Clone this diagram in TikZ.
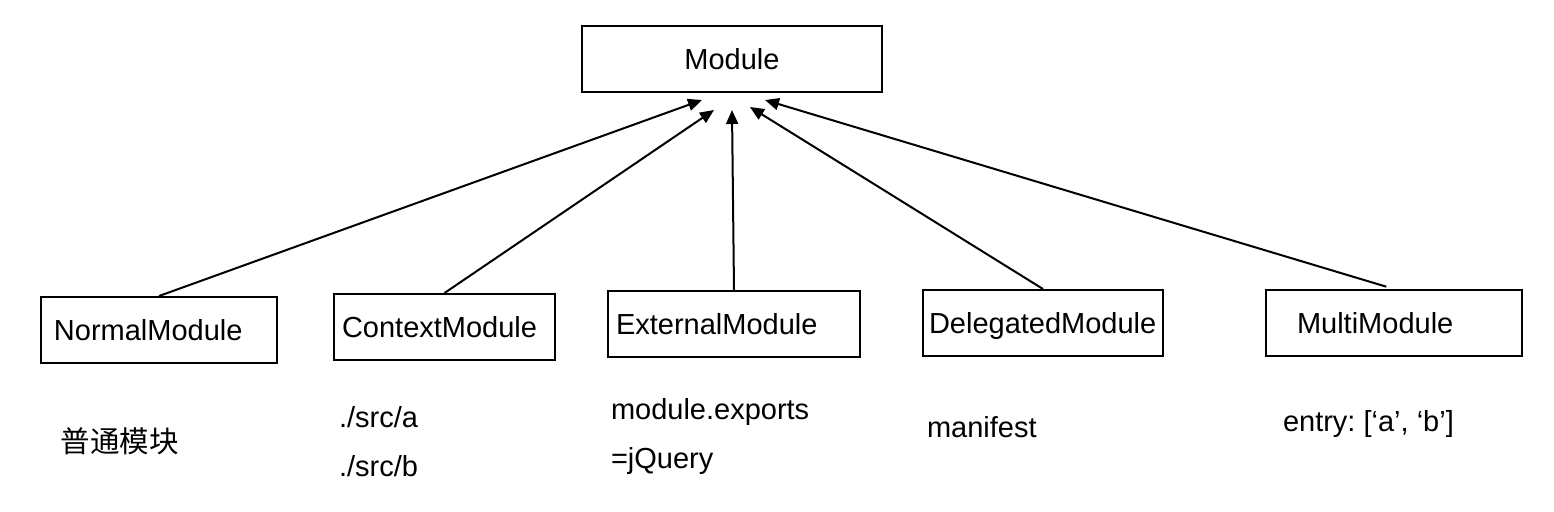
\documentclass[tikz,border=0pt]{standalone}
\usepackage{fontspec}
\setmainfont{Liberation Sans}
\newfontfamily\cjk{Noto Sans CJK SC}
\usetikzlibrary{arrows.meta}
\frenchspacing

\begin{document}
\begin{tikzpicture}[
    x=0.5pt, y=-0.5pt,       % 1 unit = 1 px
    line width=1pt,
    >={Triangle[length=7pt, width=6pt]},
    font=\fontsize{14.5}{24.5}\selectfont,
    modbox/.style={draw, minimum height=33pt, text height=12pt, text depth=1.5pt, align=left},
    desc/.style={anchor=west, align=left, inner sep=0pt}
]
    \useasboundingbox (0,0) rectangle (1554,511);

    % --- 1. 親クラス ---
    \node [draw, minimum width=150pt, minimum height=33pt] (module) at (732,59) {Module};

    % 矢印の先端
    \coordinate (tipN) at (702,100);
    \coordinate (tipC) at (714,110);
    \coordinate (tipE) at (732,110);
    \coordinate (tipD) at (750,107);
    \coordinate (tipM) at (765,100);

    % --- 2. 子クラス ---
    \node [modbox, inner xsep=6.5pt, text width=105pt]  (normal)    at (159,330)   {NormalModule};
    \node [modbox, inner xsep=4pt,   text width=102.5pt] (context)  at (444.5,327) {ContextModule};
    \node [modbox, inner xsep=4pt,   text width=118pt]  (external)  at (734,324)   {ExternalModule};
    \node [modbox, inner xsep=3pt,   text width=114pt]  (delegated) at (1043,323)  {DelegatedModule};
    \node [modbox, inner xsep=15.5pt, text width=97pt]  (multi)     at (1394,323)  {MultiModule};

    % --- 3. 継承の矢印 ---
    \draw [->] (normal.north)    -- (tipN);
    \draw [->] (context.north)   -- (tipC);
    \draw [->] (external.north)  -- (tipE);
    \draw [->] (delegated.north) -- (tipD);
    \draw [->, shorten <=4pt] (multi.north) -- (tipM);

    % --- 4. 説明テキスト ---
    \node [desc] (descN) at (60,441)    {\cjk\fontsize{14.75}{24.5}\selectfont 普通模块};
    \node [desc] (descC) at (338,441.5) {./src/a\\./src/b};
    \node [desc] (descE) at (610,436.5) {module.exports\\=jQuery};
    \node [desc] (descD) at (926,427)   {manifest};
    \node [desc] (descM) at (1282,424)  {entry: [‘a’, ‘b’]};

\end{tikzpicture}
\end{document}
